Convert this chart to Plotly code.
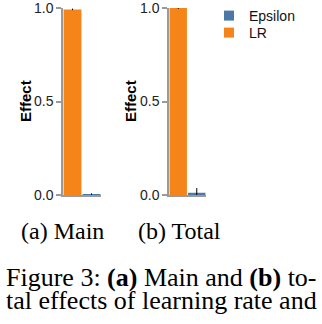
import plotly.graph_objects as go

# ---- data ----
categories = ["LR", "Epsilon"]
main_values = [0.993, 0.003]
main_errors = [0.004, 0.006]
total_values = [1.0, 0.012]
total_errors = [0.004, 0.025]
series_colors = {"LR": "#F58518", "Epsilon": "#4C78A8"}
legend_order = ["Epsilon", "LR"]
y_ticks = [0.0, 0.5, 1.0]
y_tick_labels = ["0.0", "0.5", "1.0"]
panel_captions = ["(a) Main", "(b) Total"]
caption_lines = ["Figure 3: <b>(a)</b> Main and <b>(b)</b> to-",
                 "tal effects of learning rate and"]

W, H = 322, 324
def px(x):
    return x / W
def py(y):
    return (H - y) / H

fig = go.Figure()

panels = [("x", "y", main_values, main_errors), ("x2", "y2", total_values, total_errors)]
for xa, ya, vals, errs in panels:
    for cat, v, e in zip(categories, vals, errs):
        fig.add_trace(go.Bar(
            x=[cat], y=[v], xaxis=xa, yaxis=ya,
            marker=dict(color=series_colors[cat], line=dict(width=0)),
            error_y=dict(type="data", array=[e], color="black", thickness=1, width=0),
            showlegend=False, name=cat,
        ))

legend_ids = ["legend", "legend2"]
for cat, lid in zip(legend_order, legend_ids):
    fig.add_trace(go.Scatter(
        x=[None], y=[None], mode="markers", name=cat, legend=lid,
        marker=dict(symbol="square", size=10, color=series_colors[cat]),
        xaxis="x", yaxis="y", showlegend=True,
    ))

axis_gray = "#9a9a9a"
xcommon = dict(type="category", categoryorder="array", categoryarray=categories,
               range=[-0.5, 1.5], showticklabels=False, ticks="", showgrid=False,
               zeroline=False, showline=True, linecolor=axis_gray, linewidth=1.5,
               fixedrange=True, automargin=False)
ycommon = dict(range=[0, 1.0005], tickvals=y_ticks, ticktext=y_tick_labels,
               ticks="outside", ticklen=5, tickcolor=axis_gray, tickwidth=1.5,
               showline=True, linecolor=axis_gray, linewidth=1.5, showgrid=False,
               zeroline=False, automargin=False, ticklabeloverflow="allow",
               tickfont=dict(family="Liberation Sans, Arial", size=14, color="#222"),
               domain=[py(195), py(8)])

legend_common = dict(xanchor="left", yanchor="middle",
                     font=dict(family="Liberation Sans, Arial", size=14, color="#111"),
                     bgcolor="rgba(0,0,0,0)", itemwidth=30)

fig.update_layout(
    width=W, height=H, autosize=False,
    margin=dict(l=0, r=0, t=0, b=0, autoexpand=False),
    paper_bgcolor="white", plot_bgcolor="white",
    barmode="overlay", bargap=0.06,
    xaxis=dict(xcommon, domain=[px(63), px(101)], anchor="y"),
    yaxis=dict(ycommon, anchor="x"),
    xaxis2=dict(xcommon, domain=[px(169), px(206)], anchor="y2"),
    yaxis2=dict(ycommon, anchor="x2"),
    showlegend=True,
    legend=dict(legend_common, x=px(209), y=py(16)),
    legend2=dict(legend_common, x=px(209), y=py(33)),
)

ann = []
for xc in [25, 130]:
    ann.append(dict(text="<b>Effect</b>", x=px(xc), y=py(101), xref="paper", yref="paper",
                    showarrow=False, textangle=-90, xanchor="center", yanchor="middle",
                    font=dict(family="Liberation Sans, Arial", size=15, color="black")))
for txt, xc in zip(panel_captions, [62, 179]):
    ann.append(dict(text=txt, x=px(xc), y=py(231), xref="paper", yref="paper",
                    showarrow=False, xanchor="center", yanchor="middle",
                    font=dict(family="Liberation Serif, Times New Roman", size=24, color="black")))
for txt, yc in zip(caption_lines, [277, 300]):
    ann.append(dict(text=txt, x=0.5, y=py(yc), xref="paper", yref="paper",
                    showarrow=False, xanchor="center", yanchor="middle",
                    font=dict(family="Liberation Serif, Times New Roman", size=26, color="black")))
fig.update_layout(annotations=ann)

fig.write_html("out.html",
               config={"displayModeBar": False},
               post_script="document.body.style.margin='0';document.body.style.padding='0';")
